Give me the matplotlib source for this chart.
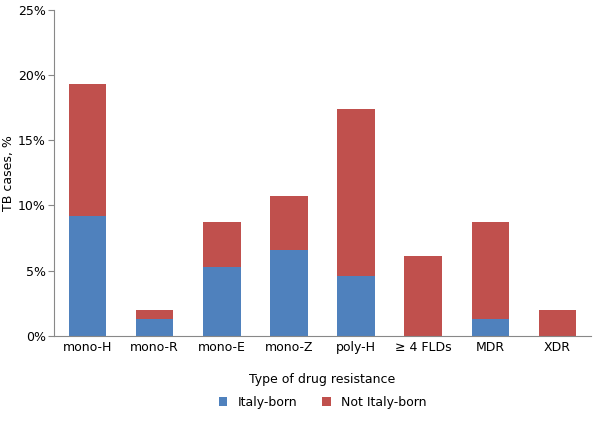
import numpy as np
import matplotlib
matplotlib.use("Agg")
import matplotlib.pyplot as plt
from matplotlib.ticker import FuncFormatter

categories = ['mono-H', 'mono-R', 'mono-E', 'mono-Z', 'poly-H', '≥ 4 FLDs', 'MDR', 'XDR']
italy_born = [9.2, 1.3, 5.3, 6.6, 4.6, 0.0, 1.3, 0.0]
not_italy_born = [10.1, 0.7, 3.4, 4.1, 12.8, 6.1, 7.4, 2.0]

fig = plt.figure(figsize=(6, 4.3), dpi=100)
ax = fig.add_axes([0.09, 0.219, 0.895, 0.758])
x = np.arange(len(categories))
w = 0.56
ax.bar(x, italy_born, w, color='#4f81bd', label='Italy-born')
ax.bar(x, not_italy_born, w, bottom=italy_born, color='#c0504d', label='Not Italy-born')

ax.set_ylim(0, 25)
ax.set_xlim(-0.5, len(categories) - 0.5)
ax.set_yticks(np.arange(0, 26, 5))
ax.yaxis.set_major_formatter(FuncFormatter(lambda v, p: f'{v:.0f}%'))
ax.set_xticks(x)
ax.set_xticklabels(categories, fontsize=9)
ax.tick_params(axis='y', labelsize=9, length=4, pad=2, color='#888888')
ax.tick_params(axis='x', length=0)
for s in ['top', 'right']:
    ax.spines[s].set_visible(False)
for s in ['left', 'bottom']:
    ax.spines[s].set_color('#888888')
ax.set_ylabel('TB cases, %', fontsize=9, labelpad=2)
ax.set_xlabel('Type of drug resistance', fontsize=9, labelpad=14)
ax.legend(loc='upper center', bbox_to_anchor=(0.5, -0.15), ncol=2, frameon=False,
          fontsize=9, handlelength=0.7, handleheight=0.7, columnspacing=2)
fig.savefig('out.png', dpi=100)
